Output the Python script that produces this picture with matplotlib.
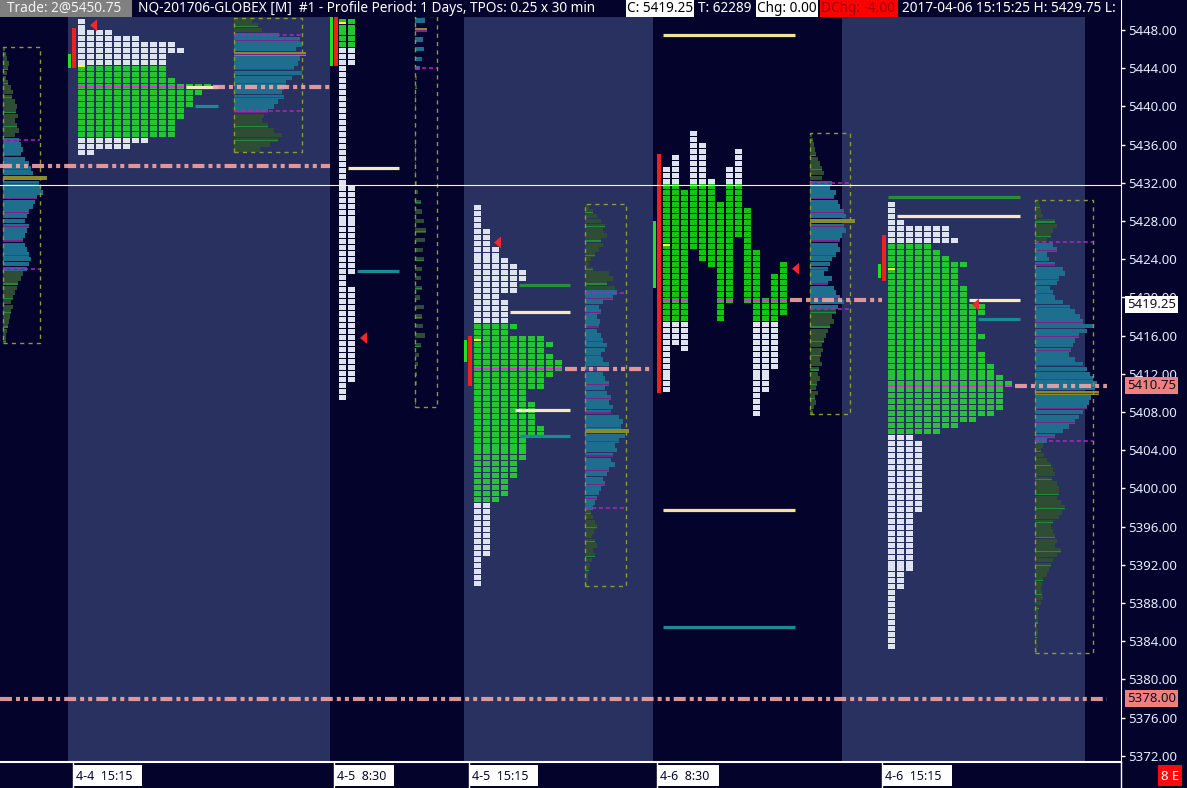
import numpy as np
import matplotlib
matplotlib.use("Agg")
import matplotlib.pyplot as plt
from matplotlib.patches import Rectangle, Polygon
from matplotlib.collections import PatchCollection
import matplotlib.transforms as mtransforms

plt.rcParams['font.family'] = ['Noto Sans', 'DejaVu Sans']
plt.rcParams['lines.scale_dashes'] = False

# ---------------- data ----------------
Y_TICKS = np.arange(5372, 5449, 4)
SESSION_LABELS = ['4-4  15:15', '4-5  8:30', '4-5  15:15', '4-6  8:30', '4-6  15:15']

# TPO profiles: (tpo count, number of rows) from the top row down
S1_TPO_TOP = 5449.25
S1_TPO = [(1, 2), (4, 1), (7, 1), (11, 1), (12, 1), (10, 4), (11, 1), (15, 1), (14, 1),
          (13, 2), (12, 2), (11, 3), (8, 1), (6, 1), (2, 1)]
S2_TPO_TOP = 5449.25
S2_TPO = [(2, 8), (1, 20), (2, 15), (1, 2), (2, 16), (1, 3)]
S3_TPO_TOP = 5429.75
S3_TPO = [(1, 4), (2, 3), (3, 2), (4, 1), (5, 1), (6, 2), (5, 2), (3, 1), (4, 4), (5, 1),
          (4, 1), (8, 1), (9, 1), (8, 1), (9, 1), (10, 2), (9, 1), (8, 2), (6, 2), (7, 4),
          (8, 2), (6, 4), (5, 3), (4, 3), (3, 1), (2, 9), (1, 5)]
S5_TPO_TOP = 5430.0
S5_TPO = [(1, 3), (2, 1), (7, 2), (8, 1), (5, 1), (6, 1), (7, 1), (9, 1), (8, 3), (9, 3),
          (11, 2), (10, 3), (11, 1), (10, 2), (11, 2), (12, 2), (13, 1), (14, 1), (13, 4),
          (12, 1), (10, 1), (8, 1), (6, 1), (3, 1), (4, 12), (3, 10), (2, 3), (1, 10)]
# overnight 4-6 drawn by period (one column per 30 min)
S4_TPO_TOP = 5437.5
S4_HIGH = [5433.5, 5435.0, 5431.25, 5437.5, 5436.0, 5432.25, 5430.0, 5433.5, 5435.5,
           5429.25, 5424.75, 5420.0, 5422.75, 5423.5]
S4_LOW = [5410.0, 5415.25, 5414.25, 5425.25, 5423.5, 5423.0, 5417.5, 5419.25, 5426.5,
          5419.25, 5407.5, 5409.75, 5412.5, 5418.25]

# value areas (low, high) and POC of the TPO profiles
TPO_VA = [(5436.75, 5444.25), (5446.2, 5449.5), (5398.5, 5417.2), (5417.4, 5431.8), (5405.6, 5425.4)]
TPO_POC = [5442.0, None, 5412.5, 5419.75, 5410.75]
OPEN_PRICE = [5444.25, 5448.75, 5415.5, 5425.5, 5423.0]
CLOSE_PRICE = [5448.5, 5415.75, 5425.75, 5423.0, 5419.25]
IB_RANGE = [(5444.0, 5448.25), (5444.25, 5449.5), (5410.75, 5416.0), (5410.0, 5435.0), (5421.75, 5426.5)]
OPEN_RANGE = [(5444.0, 5445.5), (5444.25, 5449.5), (5413.25, 5415.5), (5421.0, 5428.0), (5422.0, 5423.5)]

# volume profiles (relative volume per price step)
S0_VOL_TOP, S0_VOL_STEP = 5446.0, 0.5
S0_VOL = [2, 3, 4, 6, 5, 4, 3, 5, 8, 10, 9, 12, 14, 13, 15, 12, 14, 16, 12, 16,
          18, 20, 18, 22, 26, 28, 30, 44, 36, 38, 40, 34, 32, 30, 26, 24, 22, 26, 24, 22,
          20, 22, 24, 26, 28, 26, 24, 20, 18, 15, 14, 12, 10, 8, 10, 8, 7, 6, 5, 4, 3, 3]
S1_VOL_TOP, S1_VOL_STEP = 5449.0, 0.5
S1_VOL = [18, 24, 28, 45, 66, 68, 62, 72, 66, 64, 60, 68, 58, 52, 50, 48, 50, 44, 40, 34,
          30, 28, 34, 40, 48, 44, 36, 26]
S2_VOL_TOP, S2_VOL_STEP = 5449.0, 1.0
S2_VOL = [10, 12, 8, 9, 7, 5, 2, 2, 1, 1, 1, 1, 1, 1, 1, 1, 1, 2, 3, 6,
          7, 9, 11, 10, 8, 9, 7, 6, 7, 5, 9, 7, 8, 10, 6, 4, 3, 2, 2, 1, 1]
S3_VOL_TOP, S3_VOL_STEP = 5429.5, 0.5
S3_VOL = [4, 8, 12, 16, 20, 18, 22, 16, 18, 14, 10, 6, 4, 8, 24, 28, 22, 30, 32, 28,
          18, 14, 16, 12, 15, 14, 12, 16, 18, 22, 20, 16, 18, 24, 22, 18, 20, 24, 20, 22,
          26, 24, 28, 26, 34, 38, 36, 44, 40, 34, 30, 32, 28, 26, 30, 24, 22, 18, 20, 16,
          14, 12, 10, 8, 6, 8, 10, 12, 9, 7, 10, 12, 8, 10, 7, 5, 4, 3, 3, 2]
S4_VOL_TOP, S4_VOL_STEP = 5437.0, 0.5
S4_VOL = [2, 3, 4, 5, 6, 8, 10, 12, 14, 12, 22, 20, 26, 24, 28, 30, 34, 36, 45, 34,
          36, 32, 30, 28, 30, 26, 22, 20, 18, 14, 22, 18, 24, 26, 30, 34, 28, 26, 22, 24,
          20, 18, 16, 14, 12, 13, 11, 10, 12, 9, 8, 10, 7, 6, 8, 5, 6, 4, 3]
S5_VOL_TOP, S5_VOL_STEP = 5430.0, 0.5
S5_VOL = [4, 5, 6, 8, 20, 22, 18, 16, 12, 18, 22, 12, 14, 20, 28, 30, 24, 22, 15, 18,
          20, 28, 35, 40, 45, 48, 58, 52, 44, 40, 38, 36, 34, 40, 48, 52, 55, 58, 62, 60,
          64, 56, 54, 52, 48, 44, 40, 34, 28, 20, 12, 8, 6, 9, 12, 16, 18, 20, 17, 22,
          24, 24, 22, 26, 30, 27, 24, 18, 16, 18, 20, 22, 20, 26, 22, 18, 16, 14, 12, 8,
          7, 6, 7, 8, 6, 4, 3, 3, 3, 2, 3, 2, 2, 3, 2]
VOL_VA = [(5423.0, 5436.5), (5439.5, 5447.5), (5444.0, 5449.5), (5398.0, 5420.5),
          (5418.75, 5432.0), (5405.0, 5425.75)]

# reference levels per session (price, kind)
LEVELS = [
    [(5442.0, 'beige'), (5440.0, 'teal')],
    [(5433.5, 'beige'), (5422.75, 'teal')],
    [(5421.25, 'green'), (5418.5, 'beige'), (5408.25, 'beige'), (5405.5, 'teal')],
    [(5447.5, 'yellow'), (5397.75, 'yellow'), (5385.5, 'teal')],
    [(5430.5, 'green'), (5428.5, 'beige'), (5419.75, 'beige'), (5417.75, 'teal')],
]
NAKED_POC = [5433.75, 5442.0, 5412.5, 5419.75, 5410.75, 5378.0]
MARKED_PRICES = [5419.25, 5410.75, 5378.00]
CROSSHAIR = 5431.75

# ---------------- layout / style ----------------
W, H = 1187, 788
PW, PH = 1121, 762
ROW = 0.625
COL = 9
BG_DARK = '#03032b'
BG_DAY = '#283160'
TPO_WHITE = '#dde4f0'
TPO_GREEN = '#24c432'
MAGENTA = '#e030e0'
LEVEL_COLORS = {'beige': '#f2ebbb', 'teal': '#1c8a94', 'green': '#2b8c3a', 'yellow': '#f3e39a'}
PINK = '#f4a3a3'

day_spans = [(68, 330), (464, 653), (842, 1085)]
tpo_x0 = [78, 339, 474, 663, 888]
bar_x = [68, 330, 464, 653, 878]
tri_x = [90, 360, 494, 792, 972]
level_x = [[(186, 218), (195, 218)],
           [(348, 399), (357, 399)],
           [(519, 570), (510, 570), (515, 570), (520, 570)],
           [(663, 795), (663, 795), (663, 795)],
           [(888, 1020), (897, 1020), (969, 1020), (978, 1020)]]
vol_x = [(3, 40), (234, 302), (415, 437), (585, 626), (810, 850), (1035, 1093)]
npoc_x = [(0, 330), (213, 330), (565, 653), (790, 882), (1015, 1107), (0, 1107)]
label_x = [73, 334, 469, 657, 882]
label_w = [69, 60, 69, 62, 70]

fig = plt.figure(figsize=(W / 100, H / 100), dpi=100, facecolor=BG_DARK)
ax = fig.add_axes([0, (H - PH) / H, PW / W, PH / H])
ax.set_facecolor(BG_DARK)
ax.set_xlim(0, PW)
ax.set_ylim(5448 - (PH - 30) / 9.55, 5448 + 30 / 9.55)

for a, b in day_spans:
    ax.axvspan(a, b, color=BG_DAY, lw=0, zorder=0)

rects, colors = [], []


def add_rect(x, y, w, h, c):
    rects.append(Rectangle((x, y), w, h))
    colors.append(c)


def draw_tpo(x0, top, runs, va, poc, open_price):
    counts = np.repeat([c for c, n in runs], [n for c, n in runs])
    highs = top - ROW * np.arange(len(counts))
    for c, hi in zip(counts, highs):
        mid = hi - ROW / 2
        col = TPO_GREEN if va[0] <= mid <= va[1] else TPO_WHITE
        for k in range(c):
            add_rect(x0 + k * COL, hi - ROW * 0.92, 7, ROW * 0.84, col)
            if poc is not None and hi - ROW < poc <= hi:
                add_rect(x0 + k * COL, poc - 0.12, 7, 0.22, MAGENTA)
    add_rect(x0, open_price - 0.1, 7, 0.22, '#ffff30')


def draw_tpo_columns(x0, top, highs, lows, va, poc, open_price):
    n_rows = int(round((top - min(lows)) / ROW)) + 1
    row_hi = top - ROW * np.arange(n_rows)
    for j, (hi_c, lo_c) in enumerate(zip(highs, lows)):
        for hi in row_hi:
            mid = hi - ROW / 2
            if lo_c - 0.05 <= mid <= hi_c + 0.05:
                col = '#14c414' if va[0] <= mid <= va[1] else TPO_WHITE
                add_rect(x0 + j * COL, hi - ROW * 0.92, 7, ROW * 0.84, col)
        if lo_c <= poc <= hi_c:
            add_rect(x0 + j * COL, poc - 0.12, 7, 0.22, MAGENTA)
    add_rect(x0, open_price - 0.1, 7, 0.22, '#ffff30')


draw_tpo(tpo_x0[0], S1_TPO_TOP, S1_TPO, TPO_VA[0], TPO_POC[0], OPEN_PRICE[0])
draw_tpo(tpo_x0[1], S2_TPO_TOP, S2_TPO, TPO_VA[1], TPO_POC[1], OPEN_PRICE[1])
draw_tpo(tpo_x0[2], S3_TPO_TOP, S3_TPO, TPO_VA[2], TPO_POC[2], OPEN_PRICE[2])
draw_tpo_columns(tpo_x0[3], S4_TPO_TOP, S4_HIGH, S4_LOW, TPO_VA[3], TPO_POC[3], OPEN_PRICE[3])
draw_tpo(tpo_x0[4], S5_TPO_TOP, S5_TPO, TPO_VA[4], TPO_POC[4], OPEN_PRICE[4])

# initial balance / opening range bars
for i in range(5):
    lo, hi = OPEN_RANGE[i]
    add_rect(bar_x[i], lo, 3, hi - lo, '#22e022')
    lo, hi = IB_RANGE[i]
    add_rect(bar_x[i] + 4, lo, 3.5, hi - lo, '#f02020')

ax.add_collection(PatchCollection(rects, facecolors=colors, edgecolors='none', zorder=3))

# volume profiles
vols = [(S0_VOL_TOP, S0_VOL_STEP, S0_VOL), (S1_VOL_TOP, S1_VOL_STEP, S1_VOL),
        (S2_VOL_TOP, S2_VOL_STEP, S2_VOL), (S3_VOL_TOP, S3_VOL_STEP, S3_VOL),
        (S4_VOL_TOP, S4_VOL_STEP, S4_VOL), (S5_VOL_TOP, S5_VOL_STEP, S5_VOL)]
for (top, step, vals), (x0, x1), (va_lo, va_hi) in zip(vols, vol_x, VOL_VA):
    vals = np.array(vals, dtype=float)
    prices = top - step * np.arange(len(vals))
    inside = (prices >= va_lo) & (prices <= va_hi)
    cols = np.where(inside, '#1e6f8d', '#2f4c35')
    cols[np.argmax(vals)] = '#8a8a2c'
    h = 0.47 if step <= 0.5 else 0.45
    ax.barh(prices, vals, left=x0, height=h, color=cols, lw=0, zorder=2)
    idx = np.arange(len(vals)) % 3 == 1
    lcol = np.where(inside, '#7a2290', '#1e8c3c')
    ax.barh(prices[idx] - 0.1, vals[idx], left=x0, height=0.12, color=lcol[idx], lw=0, zorder=2.1)
    b_hi, b_lo = top + step / 2, prices[-1] - step / 2
    ax.add_patch(Rectangle((x0, b_lo), x1 - x0, b_hi - b_lo, fill=False, ec='#8e9a2c',
                           lw=1, ls=(0, (3, 3)), zorder=2.2))
    for p in (va_lo, va_hi):
        if b_lo < p < b_hi - 0.3:
            ax.plot([x0, x1], [p, p], color='#b024c0', lw=1.1, ls=(0, (3, 2)), zorder=2.3)

# reference levels
for lv, xs in zip(LEVELS, level_x):
    for (p, kind), (xa, xb) in zip(lv, xs):
        ax.plot([xa, xb], [p, p], color=LEVEL_COLORS[kind], lw=2.3, solid_capstyle='butt', zorder=4)

# naked POC lines
for p, (xa, xb) in zip(NAKED_POC, npoc_x):
    ax.plot([xa, xb], [p, p], color=PINK, lw=3.0, alpha=0.9, zorder=4,
            dashes=(8.6, 2.9, 2.9, 2.9, 2.9, 2.9), solid_capstyle='butt', dash_capstyle='butt')

# close markers
for x, p in zip(tri_x, CLOSE_PRICE):
    ax.add_patch(Polygon([(x, p), (x + 7, p + 0.62), (x + 7, p - 0.62)], closed=True,
                         fc='#f02a2a', ec='none', zorder=5))

ax.axhline(CROSSHAIR, color='#ffffa0', lw=0.8, zorder=6)

# axes styling
for s in ('top', 'left'):
    ax.spines[s].set_visible(False)
ax.spines['right'].set_color('white')
ax.spines['bottom'].set_color('white')
ax.spines['bottom'].set_linewidth(1.5)
ax.set_xticks([])
ax.yaxis.tick_right()
ax.set_yticks(Y_TICKS)
ax.set_yticklabels([f'{v:.2f}' for v in Y_TICKS])
ax.tick_params(axis='y', colors='white', labelcolor='#e6ecff', length=3, width=1,
               pad=2, labelsize=9.5)

trans = mtransforms.blended_transform_factory(ax.transAxes, ax.transData)
mark_bg = ['white', '#f08080', '#f08080']
for p, bg in zip(MARKED_PRICES, mark_bg):
    ax.text(1 + 6 / PW, p, f'{p:.2f}', transform=trans, ha='left', va='center',
            fontsize=9.5, color='#101020', clip_on=False, zorder=10,
            bbox=dict(boxstyle='square,pad=0.15', fc=bg, ec='none'))


# header (inside the plot area, clipped at its right edge)
def ax_xy(x, y):
    return x / PW, 1 - y / PH


def header_box(x0, x1, color):
    ax.add_patch(Rectangle(ax_xy(x0, 17), (x1 - x0) / PW, 17 / PH, transform=ax.transAxes,
                           fc=color, ec='none', zorder=11))


header_box(0, PW, BG_DARK)
header_box(0, 132, '#808080')
header_box(626, 694, 'white')
header_box(756, 818, 'white')
header_box(820, 898, '#ff0000')
header_items = [(7, 'Trade: 2@5450.75', '#f2f2f2'),
                (138, 'NQ-201706-GLOBEX [M]  #1 - Profile Period: 1 Days, TPOs: 0.25 x 30 min', 'white'),
                (627, 'C: 5419.25', 'black'),
                (698, 'T: 62289', 'white'),
                (757, 'Chg: 0.00', 'black'),
                (821, 'DChg: -4.00', '#a00000'),
                (902, '2017-04-06 15:15:25 H: 5429.75 L:', 'white')]
for x, s, c in header_items:
    ax.text(*ax_xy(x, 8.5), s, transform=ax.transAxes, ha='left', va='center',
            fontsize=9.8, color=c, zorder=12, clip_on=True)


# time axis
def fig_xy(x, y):
    return x / W, 1 - y / H


for x, w, s in zip(label_x, label_w, SESSION_LABELS):
    fig.add_artist(Rectangle(fig_xy(x, 786), w / W, 21 / H, transform=fig.transFigure,
                             fc='white', ec='none'))
    fig.add_artist(plt.Line2D([x / W, x / W], [0, (H - PH) / H], color='white', lw=1,
                              transform=fig.transFigure))
    fig.text(*fig_xy(x + 3, 776), s, ha='left', va='center', fontsize=9, color='#0a0a30')
fig.add_artist(plt.Line2D([PW / W, PW / W], [0, (H - PH) / H], color='white', lw=1,
                          transform=fig.transFigure))
fig.add_artist(Rectangle(fig_xy(1158, 786), 24 / W, 21 / H, transform=fig.transFigure,
                         fc='#ff0a0a', ec='none'))
fig.text(*fig_xy(1170, 776), '8 E', ha='center', va='center', fontsize=9.5, color='white')

fig.savefig('out.png', dpi=100, facecolor=BG_DARK)
